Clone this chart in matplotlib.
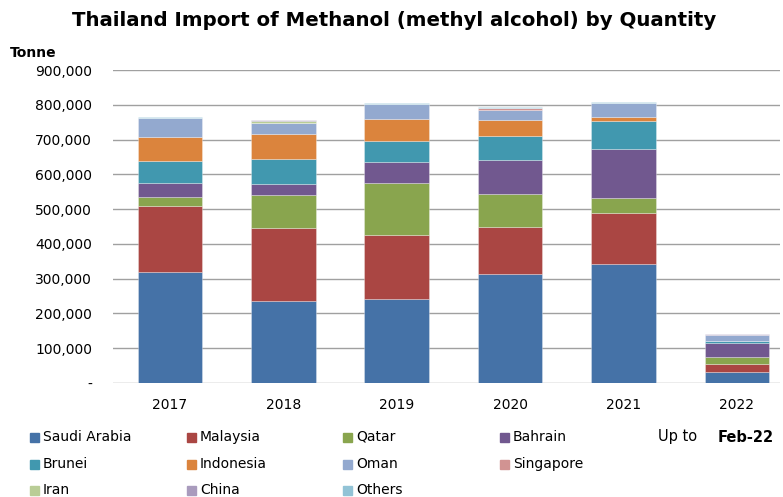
import matplotlib
matplotlib.use("Agg")
import matplotlib.pyplot as plt
from matplotlib.patches import Rectangle
import numpy as np

years = ['2017', '2018', '2019', '2020', '2021', '2022']
countries = ['Saudi Arabia', 'Malaysia', 'Qatar', 'Bahrain', 'Brunei', 'Indonesia',
             'Oman', 'Singapore', 'Iran', 'China', 'Others']
saudi = [320000, 236000, 241000, 314000, 342000, 31000]
malaysia = [190000, 211000, 185000, 134000, 148000, 24000]
qatar = [25000, 94000, 150000, 95000, 42000, 21000]
bahrain = [40000, 32000, 59000, 97000, 140000, 38000]
brunei = [62000, 72000, 62000, 69000, 80000, 7000]
indonesia = [69000, 71000, 63000, 46000, 13000, 0]
oman = [56000, 33000, 41000, 31000, 40000, 18000]
singapore = [0, 0, 0, 4000, 0, 0]
iran = [0, 5000, 0, 0, 0, 0]
china = [1000, 2000, 2000, 2000, 1000, 2000]
others = [1000, 1000, 1000, 1000, 1000, 1000]
series = [saudi, malaysia, qatar, bahrain, brunei, indonesia, oman, singapore, iran, china, others]
colors = ['#4572A7', '#AA4643', '#89A54E', '#71588F', '#4198AF', '#DB843D',
          '#93A9CF', '#D19392', '#B9CD96', '#A99BBD', '#92C3D6']
yticks = [0, 100000, 200000, 300000, 400000, 500000, 600000, 700000, 800000, 900000]
ytick_labels = ['-', '100,000', '200,000', '300,000', '400,000', '500,000',
                '600,000', '700,000', '800,000', '900,000']

plt.rcParams['font.family'] = ['DejaVu Sans']
fig = plt.figure(figsize=(7.83, 4.97), dpi=100)
ax = fig.add_axes([113/783, 1-383/497, (780-113)/783, (383-70)/497])

x = np.arange(len(years))
bottom = np.zeros(len(years))
for vals, c, name in zip(series, colors, countries):
    v = np.array(vals, dtype=float)
    ax.bar(x, v, bottom=bottom, width=0.57, color=c, edgecolor=(1, 1, 1, 0.35),
           linewidth=0.6, label=name, zorder=3)
    bottom += v

ax.set_xlim(-0.503, 5.38)
ax.set_ylim(0, 900000)
ax.set_yticks(yticks)
ax.set_yticklabels(ytick_labels, fontsize=10)
ax.set_xticks(x)
ax.set_xticklabels(years, fontsize=10)
ax.tick_params(axis='both', length=0)
ax.tick_params(axis='y', pad=15)
ax.tick_params(axis='x', pad=11)
ax.grid(axis='y', color='#a0a0a0', linewidth=1.0, zorder=0)
for s in ax.spines.values():
    s.set_visible(False)

fig.text(394/783, 1-20/497, 'Thailand Import of Methanol (methyl alcohol) by Quantity',
         ha='center', va='center', fontsize=14.2, fontweight='bold')
fig.text(10/783, 1-53/497, 'Tonne', ha='left', va='center', fontsize=10, fontweight='bold')

# legend (row-major, 4 columns)
col_x = [30, 187, 343, 500]
row_y = [437, 464, 490]
for i, (name, c) in enumerate(zip(countries, colors)):
    r, k = divmod(i, 4)
    xs, ys = col_x[k], row_y[r]
    fig.add_artist(Rectangle((xs/783, 1-(ys+4.5)/497), 9/783, 9/497,
                             transform=fig.transFigure, color=c))
    fig.text((xs+13)/783, 1-ys/497, name, ha='left', va='center', fontsize=10)

fig.text(658/783, 1-437/497, 'Up to', ha='left', va='center', fontsize=10.5)
fig.text(718/783, 1-437/497, 'Feb-22', ha='left', va='center', fontsize=10.5, fontweight='bold')

fig.savefig('out.png', dpi=100)
